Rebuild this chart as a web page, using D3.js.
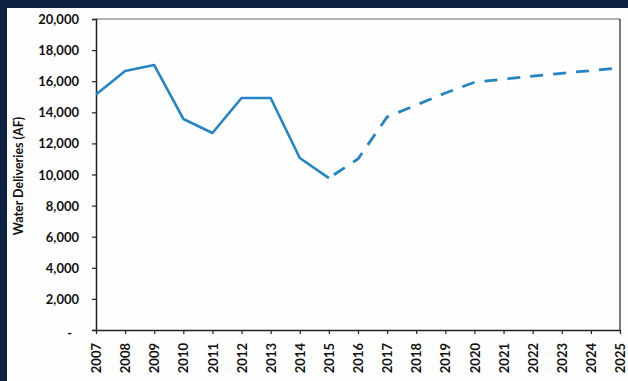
<!DOCTYPE html>
<html>
<head>
<meta charset="utf-8">
<script src="https://cdn.jsdelivr.net/npm/d3@7"></script>
<style>
  html, body { margin: 0; padding: 0; background: #0c2240; }
  svg { display: block; }
  text { font-family: Lato, "Open Sans", "Liberation Sans", sans-serif; font-weight: 700; fill: #111; }
</style>
</head>
<body>
<svg id="chart" width="628" height="381"></svg>
<script>
// Annual water deliveries in acre-feet: recorded years, then the projection
const years = [2007, 2008, 2009, 2010, 2011, 2012, 2013, 2014, 2015, 2016,
               2017, 2018, 2019, 2020, 2021, 2022, 2023, 2024, 2025];
const actualYears = [2007, 2008, 2009, 2010, 2011, 2012, 2013, 2014, 2015];
const actualValues = [15150, 16660, 17040, 13570, 12670, 14920, 14920, 11060, 9770];
const projectedYears = [2015, 2016, 2017, 2018, 2019, 2020, 2021, 2022, 2023, 2024, 2025];
const projectedValues = [9770, 11000, 13700, 14470, 15240, 15930, 16130, 16330, 16510, 16680, 16850];
const yTicks = [0, 2000, 4000, 6000, 8000, 10000, 12000, 14000, 16000, 18000, 20000];
const yTitle = "Water Deliveries (AF)";

const W = 628, H = 381;
const plot = { left: 96, right: 620, top: 19, bottom: 330 };
const lineColor = "#2385c3";

const svg = d3.select("#chart");

// dark frame with white panel
svg.append("rect").attr("width", W).attr("height", H).attr("fill", "#0c2240");
svg.append("rect").attr("x", 7).attr("y", 8).attr("width", W - 7).attr("height", H - 8).attr("fill", "#fefefe");

const x = d3.scalePoint().domain(years).range([plot.left, plot.right]);
const y = d3.scaleLinear().domain([0, 20000]).range([plot.bottom, plot.top]);

// plot area border: lighter top edge, dark right edge
svg.append("line")
  .attr("x1", plot.left).attr("x2", plot.right).attr("y1", plot.top).attr("y2", plot.top)
  .attr("stroke", "#666").attr("stroke-width", 1.2);
svg.append("line")
  .attr("x1", plot.right).attr("x2", plot.right).attr("y1", plot.top).attr("y2", plot.bottom)
  .attr("stroke", "#333").attr("stroke-width", 1.3);

// y axis
const yAxis = svg.append("g")
  .attr("transform", `translate(${plot.left},0)`)
  .call(d3.axisLeft(y).tickValues(yTicks).tickSize(4).tickPadding(13)
    .tickFormat(d => d === 0 ? "-" : d3.format(",")(d)));
yAxis.select(".domain").attr("stroke", "#222").attr("stroke-width", 1.5);
yAxis.selectAll(".tick line").attr("stroke", "#222").attr("stroke-width", 1.2);
yAxis.selectAll(".tick text")
  .attr("font-size", 13).attr("fill", "#111")
  .attr("font-family", "Lato, 'Open Sans', sans-serif").attr("font-weight", 700)
  .attr("x", d => d === 0 ? -24 : -17)
  .attr("dy", d => d === 0 ? "0.55em" : "0.35em");

// x axis with vertical year labels
const xAxis = svg.append("g")
  .attr("transform", `translate(0,${plot.bottom})`)
  .call(d3.axisBottom(x).tickSize(4).tickSizeOuter(0).tickPadding(0));
xAxis.select(".domain").attr("stroke", "#222").attr("stroke-width", 1.5);
xAxis.selectAll(".tick line").attr("stroke", "#222").attr("stroke-width", 1.2);
xAxis.selectAll(".tick text")
  .attr("font-size", 13).attr("fill", "#111")
  .attr("font-family", "Lato, 'Open Sans', sans-serif").attr("font-weight", 700)
  .attr("transform", "rotate(-90)")
  .attr("text-anchor", "end")
  .attr("x", -13).attr("y", 0).attr("dy", "0.35em");

// y axis title
svg.append("text")
  .attr("transform", `translate(19,176) rotate(-90)`)
  .attr("text-anchor", "middle")
  .attr("dy", "0.35em")
  .attr("font-size", 12.5)
  .text(yTitle);

const line = d3.line().x(d => x(d[0])).y(d => y(d[1]));

// recorded deliveries
svg.append("path")
  .datum(d3.zip(actualYears, actualValues))
  .attr("d", line)
  .attr("fill", "none").attr("stroke", lineColor)
  .attr("stroke-width", 2.6).attr("stroke-linejoin", "round");

// projected deliveries
svg.append("path")
  .datum(d3.zip(projectedYears, projectedValues))
  .attr("d", line)
  .attr("fill", "none").attr("stroke", lineColor)
  .attr("stroke-width", 2.8).attr("stroke-dasharray", "13,10")
  .attr("stroke-dashoffset", -6);
</script>
</body>
</html>
